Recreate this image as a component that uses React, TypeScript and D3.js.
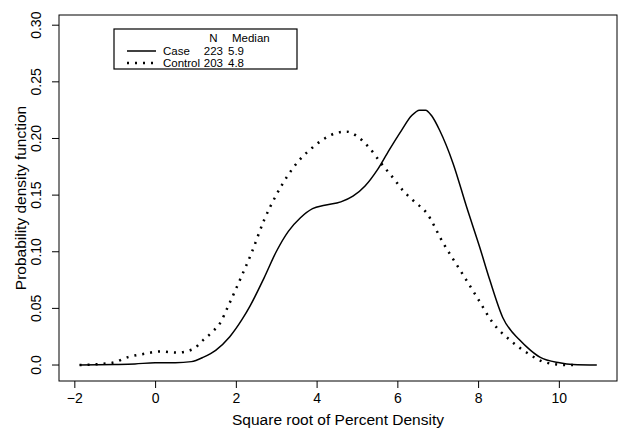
import React, { useRef, useEffect } from 'react';
import * as d3 from 'd3';

// density estimates: [sqrt % density, pdf]
const caseCurve: [number, number][] = [
  [-1.87, 0], [-1.0, 0.0005], [-0.5, 0.001], [0, 0.002], [0.5, 0.002], [0.9, 0.003],
  [1.2, 0.007], [1.5, 0.013], [1.85, 0.025], [2.15, 0.04], [2.35, 0.052], [2.7, 0.077],
  [3.0, 0.1], [3.3, 0.118], [3.6, 0.13], [3.9, 0.138], [4.2, 0.141], [4.6, 0.144],
  [4.9, 0.149], [5.2, 0.158], [5.5, 0.172], [5.8, 0.19], [6.1, 0.207], [6.35, 0.22],
  [6.55, 0.225], [6.7, 0.225], [6.85, 0.22], [7.05, 0.207], [7.38, 0.178], [7.72, 0.139],
  [8.04, 0.104], [8.29, 0.075], [8.61, 0.042], [9.03, 0.022], [9.3, 0.013], [9.53, 0.007],
  [10.02, 0.002], [10.35, 0.0005], [10.94, 0],
];

const controlCurve: [number, number][] = [
  [-1.87, 0], [-1.06, 0.002], [-0.67, 0.007], [-0.25, 0.01], [0.12, 0.012], [0.54, 0.011],
  [0.94, 0.014], [1.19, 0.022], [1.41, 0.029], [1.61, 0.037], [1.81, 0.052], [2.1, 0.075],
  [2.4, 0.1], [2.7, 0.128], [3.0, 0.15], [3.3, 0.168], [3.6, 0.182], [3.9, 0.192],
  [4.2, 0.2], [4.5, 0.205], [4.75, 0.206], [5.0, 0.202], [5.3, 0.192], [5.6, 0.178],
  [5.9, 0.165], [6.14, 0.154], [6.4, 0.145], [6.73, 0.134], [7.13, 0.108], [7.55, 0.084],
  [7.97, 0.06], [8.37, 0.037], [8.79, 0.022], [9.2, 0.011], [9.7, 0.002], [10.2, 0], [10.35, 0],
];

const xTicks = [-2, 0, 2, 4, 6, 8, 10];
const yTicks = [0, 0.05, 0.1, 0.15, 0.2, 0.25, 0.3];
const yTickLabels = ['0.0', '0.05', '0.10', '0.15', '0.20', '0.25', '0.30'];

const legendRows = [
  { label: 'Case', n: '223', median: '5.9', dash: null },
  { label: 'Control', n: '203', median: '4.8', dash: '2,6' },
];

const W = 622;
const H = 434;
const FONT = '"Liberation Sans", Arial, Helvetica, sans-serif';

const App = () => {
  const svgRef = useRef<SVGSVGElement>(null);

  useEffect(() => {
    if (!svgRef.current) return;
    const svg = d3.select(svgRef.current);
    svg.selectAll('*').remove();

    // plot box (R style, axis domain padded 4%)
    const box = { left: 59, right: 617, top: 15, bottom: 381 };

    const x = d3.scaleLinear().domain([-2.38, 11.44]).range([box.left, box.right]);
    const y = d3.scaleLinear().domain([-0.0141, 0.309]).range([box.bottom, box.top]);

    svg.append('rect').attr('width', W).attr('height', H).attr('fill', '#fff');

    svg.append('rect')
      .attr('x', box.left)
      .attr('y', box.top)
      .attr('width', box.right - box.left)
      .attr('height', box.bottom - box.top)
      .attr('fill', 'none')
      .attr('stroke', '#000')
      .attr('stroke-width', 1);

    // x axis
    const xAxisG = svg.append('g')
      .attr('transform', `translate(0,${box.bottom})`)
      .call(d3.axisBottom(x).tickValues(xTicks).tickSize(7).tickPadding(5).tickFormat(d3.format('d')));
    xAxisG.select('.domain').remove();
    xAxisG.selectAll('.tick line').attr('stroke', '#000');
    xAxisG.selectAll('text')
      .attr('fill', '#000')
      .style('font-size', '14px')
      .style('font-family', FONT);

    // y axis (labels parallel to axis)
    const yAxisG = svg.append('g').attr('transform', `translate(${box.left},0)`);
    yTicks.forEach((t, i) => {
      yAxisG.append('line')
        .attr('x1', -7).attr('x2', 0)
        .attr('y1', y(t)).attr('y2', y(t))
        .attr('stroke', '#000');
      yAxisG.append('text')
        .attr('transform', `translate(-18,${y(t)}) rotate(-90)`)
        .attr('text-anchor', 'middle')
        .attr('fill', '#000')
        .style('font-size', '14px')
        .style('font-family', FONT)
        .text(yTickLabels[i]);
    });

    // axis titles
    svg.append('text')
      .attr('x', (box.left + box.right) / 2)
      .attr('y', 425)
      .attr('text-anchor', 'middle')
      .style('font-size', '15.5px')
      .style('font-family', FONT)
      .text('Square root of Percent Density');

    svg.append('text')
      .attr('transform', `translate(26,${(box.top + box.bottom) / 2}) rotate(-90)`)
      .attr('text-anchor', 'middle')
      .style('font-size', '15.5px')
      .style('font-family', FONT)
      .text('Probability density function');

    // curves
    const line = d3.line<[number, number]>()
      .x((d) => x(d[0]))
      .y((d) => y(d[1]))
      .curve(d3.curveMonotoneX);

    svg.append('path')
      .attr('d', line(caseCurve))
      .attr('fill', 'none')
      .attr('stroke', '#000')
      .attr('stroke-width', 1.5);

    svg.append('path')
      .attr('d', line(controlCurve))
      .attr('fill', 'none')
      .attr('stroke', '#000')
      .attr('stroke-width', 2.5)
      .attr('stroke-dasharray', '2,6');

    // legend
    const lg = svg.append('g');
    lg.append('rect')
      .attr('x', 114).attr('y', 29)
      .attr('width', 183).attr('height', 40)
      .attr('fill', '#fff')
      .attr('stroke', '#000')
      .attr('stroke-width', 1.2);

    const legendFont = (sel: any) => sel
      .attr('fill', '#000')
      .style('font-size', '11.5px')
      .style('font-family', FONT);

    lg.append('text').attr('x', 213.5).attr('y', 42).attr('text-anchor', 'middle').call(legendFont).text('N');
    lg.append('text').attr('x', 232).attr('y', 42).call(legendFont).text('Median');

    legendRows.forEach((r, i) => {
      const ty = 55 + i * 12;
      const ly = ty - 4;
      const seg = lg.append('line')
        .attr('x1', 127).attr('x2', 156)
        .attr('y1', ly).attr('y2', ly)
        .attr('stroke', '#000')
        .attr('stroke-width', r.dash ? 2.5 : 1.5);
      if (r.dash) seg.attr('stroke-dasharray', r.dash);
      lg.append('text').attr('x', 163).attr('y', ty).call(legendFont).text(r.label);
      lg.append('text').attr('x', 223).attr('y', ty).attr('text-anchor', 'end').call(legendFont).text(r.n);
      lg.append('text').attr('x', 228).attr('y', ty).call(legendFont).text(r.median);
    });

    return () => {
      svg.selectAll('*').remove();
    };
  }, []);

  return (
    <svg
      ref={svgRef}
      width={W}
      height={H}
      style={{ position: 'absolute', left: 0, top: 0, display: 'block', background: '#fff' }}
    />
  );
};

export default App;
